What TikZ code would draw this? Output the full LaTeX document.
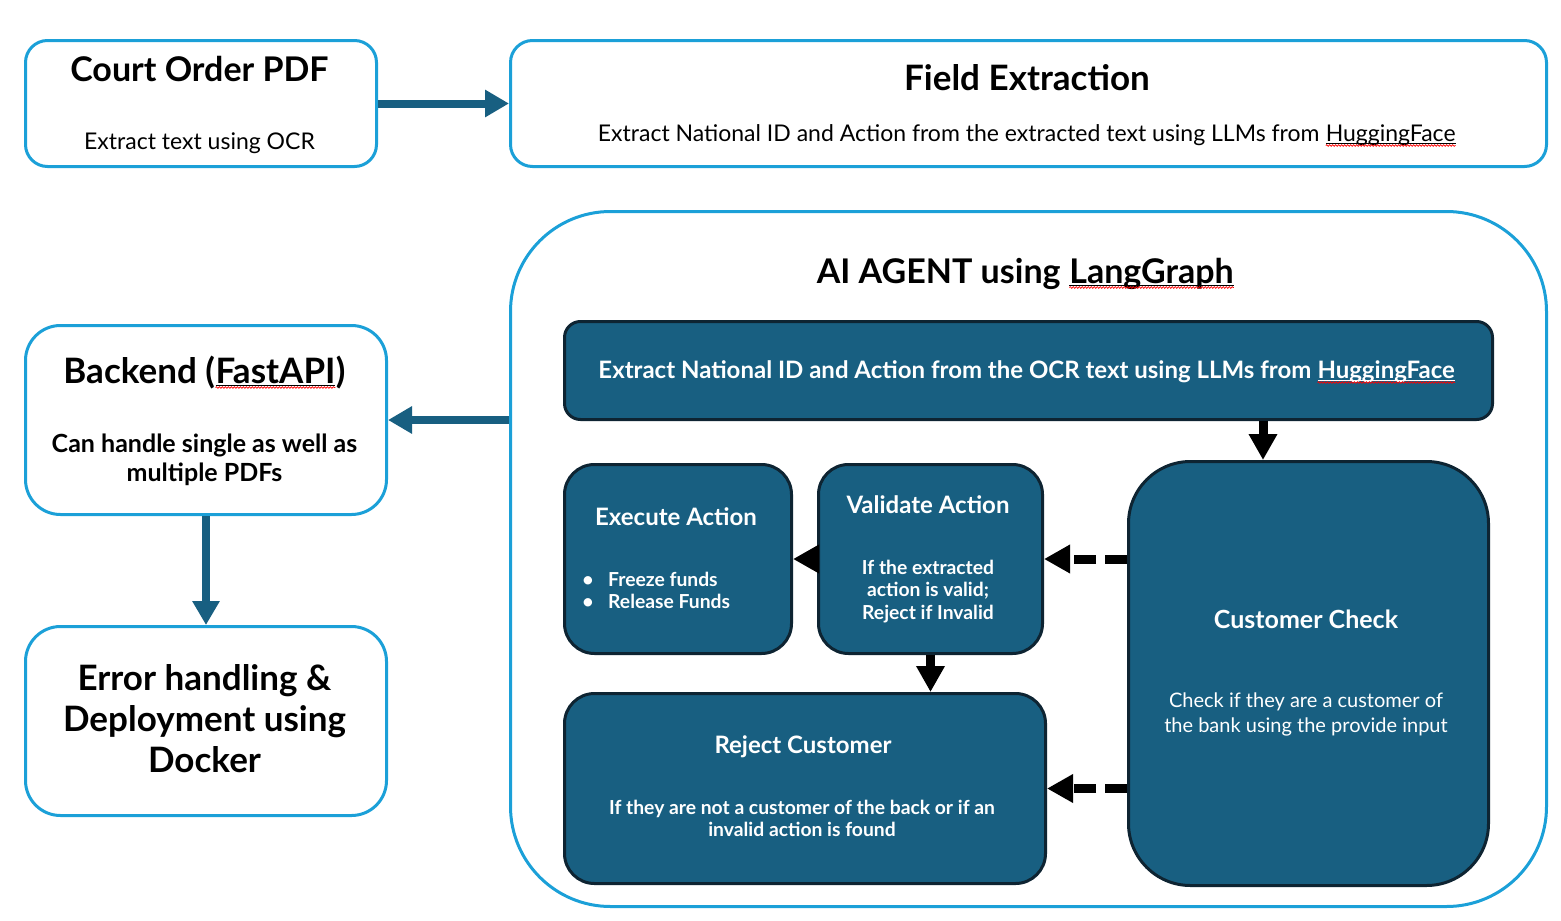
\documentclass[tikz,border=0pt]{standalone}
\usepackage{fontspec}
\setmainfont{Lato}
\usetikzlibrary{arrows.meta,decorations.pathmorphing}
\definecolor{lblue}{RGB}{27,160,216}
\definecolor{dteal}{RGB}{24,95,129}
\definecolor{dnavy}{RGB}{14,36,50}
\newcommand{\splw}[2]{\tikz[baseline=(w.base)]{\node[inner sep=0pt,outer sep=0pt,anchor=base,text=#1](w){#2};
\draw[#1,line width=1pt]([yshift=-2.5pt]w.base west)--([yshift=-2.5pt]w.base east);
\draw[red,line width=0.7pt,decorate,decoration={snake,amplitude=0.8pt,segment length=3pt}]([yshift=-4.5pt]w.base west)--([yshift=-4.5pt]w.base east);}}
\newcommand{\fTitle}{\fontsize{34}{40}\selectfont\bfseries}
\newcommand{\fTitleB}{\fontsize{35}{41}\selectfont\bfseries}
\newcommand{\fBody}{\fontsize{23}{28}\selectfont}
\newcommand{\fBodyB}{\fontsize{24}{29}\selectfont\bfseries}
\newcommand{\fBackB}{\fontsize{25}{30}\selectfont\bfseries}
\newcommand{\fCust}{\fontsize{20}{25}\selectfont}
\newcommand{\fSmall}{\fontsize{19.3}{22}\selectfont\bfseries}
\tikzset{
 lbox/.style={draw=lblue,line width=3pt,fill=white,inner sep=0pt,anchor=north west},
 dbox/.style={draw=dnavy,line width=3pt,fill=dteal,inner sep=0pt,anchor=north west},
 tarrow/.style={draw=dteal,line width=8pt,-{Triangle[length=24pt,width=26pt]}},
 barrow/.style={draw=black,line width=9pt,-{Triangle[length=26pt,width=27pt]}},
 darrow/.style={barrow,dash pattern=on 22pt off 9pt},
 txt/.style={inner sep=0pt,anchor=base},
 wtxt/.style={txt,text=white},
}
\begin{document}
\begin{tikzpicture}[x=1pt,y=-1pt]
\useasboundingbox[fill=white] (0,0) rectangle (1561,921);
% boxes
\node[lbox,rounded corners=22pt,minimum width=351pt,minimum height=126pt] (court) at (24,39) {};
\node[lbox,rounded corners=22pt,minimum width=1036pt,minimum height=126pt] (field) at (509,39) {};
\node[lbox,rounded corners=100pt,minimum width=1036pt,minimum height=695pt] (agent) at (509,210) {};
\node[lbox,rounded corners=35pt,minimum width=361pt,minimum height=189pt] (backend) at (24,324) {};
\node[lbox,rounded corners=35pt,minimum width=361pt,minimum height=189pt] (error) at (24,625) {};
\node[dbox,rounded corners=16pt,minimum width=928pt,minimum height=98pt] (ocr) at (563,320) {};
\node[dbox,rounded corners=30pt,minimum width=227pt,minimum height=189pt] (exec) at (563,463) {};
\node[dbox,rounded corners=30pt,minimum width=224pt,minimum height=189pt] (valid) at (817,463) {};
\node[dbox,rounded corners=62pt,minimum width=360pt,minimum height=424pt] (cust) at (1127,460) {};
\node[dbox,rounded corners=30pt,minimum width=481pt,minimum height=190pt] (reject) at (563,692) {};
% texts
\node[txt,font=\fTitle] (courtT) at (199.5,81) {Court Order PDF};
\node[txt,font=\fBody] (courtS) at (199.5,149) {Extract text using OCR};
\node[txt,font=\fTitleB] (fieldT) at (1027,90) {Field Extraction};
\node[txt,font=\fBody] (fieldS) at (1027,141) {Extract National ID and Action from the extracted text using LLMs from \splw{black}{HuggingFace}};
\node[txt,font=\fTitle] (agentT) at (1025.5,283) {AI AGENT using \splw{black}{LangGraph}};
\node[wtxt,font=\fBodyB] (ocrT) at (1027,378) {Extract National ID and Action from the OCR text using LLMs from \splw{white}{HuggingFace}};
\node[txt,font=\fTitleB] (backT) at (204.5,383) {Backend (\splw{black}{FastAPI})};
\node[txt,font=\fBackB] (backS1) at (204.5,452) {Can handle single as well as};
\node[txt,font=\fBackB] (backS2) at (204.5,481) {multiple PDFs};
\node[txt,font=\fTitleB] (err1) at (204.5,690) {Error handling \&};
\node[txt,font=\fTitleB] (err2) at (204.5,731) {Deployment using};
\node[txt,font=\fTitleB] (err3) at (204.5,772) {Docker};
\node[wtxt,font=\fBodyB] (execT) at (676,525) {Execute Action};
\node[wtxt,font=\fSmall] (b1) at (588,586) {•};
\node[wtxt,font=\fSmall] (b2) at (588,608) {•};
\node[wtxt,font=\fSmall,anchor=base west] (execS1) at (608,586) {Freeze funds};
\node[wtxt,font=\fSmall,anchor=base west] (execS2) at (608,608) {Release Funds};
\node[wtxt,font=\fBodyB] (validT) at (928,513) {Validate Action};
\node[wtxt,font=\fSmall] (validS1) at (928,574) {If the extracted};
\node[wtxt,font=\fSmall] (validS2) at (928,596) {action is valid;};
\node[wtxt,font=\fSmall] (validS3) at (928,619) {Reject if Invalid};
\node[wtxt,font=\fontsize{25}{30}\selectfont\bfseries] (custT) at (1306,628) {Customer Check};
\node[wtxt,font=\fCust] (custS1) at (1306,707) {Check if they are a customer of};
\node[wtxt,font=\fCust] (custS2) at (1306,732) {the bank using the provide input};
\node[wtxt,font=\fBodyB] (rejT) at (803,753) {Reject Customer};
\node[wtxt,font=\fSmall] (rejS1) at (802,814) {If they are not a customer of the back or if an};
\node[wtxt,font=\fSmall] (rejS2) at (802,836) {invalid action is found};
% connectors
\coordinate (cx) at (1263,0);
\draw[tarrow] (court.east) -- (field.west);
\draw[tarrow] (agent.west |- backend.east) -- (backend.east);
\draw[tarrow] (backend.south) -- (error.north);
\draw[barrow] (ocr.south -| cx) -- (cust.north -| cx);
\draw[darrow] (cust.west |- valid.east) -- (valid.east);
\draw[darrow] (cust.west |- reject.east) -- (reject.east);
\draw[barrow] (valid.west) -- (exec.east);
\draw[barrow] (valid.south) -- (reject.north -| valid.south);
\end{tikzpicture}
\end{document}
